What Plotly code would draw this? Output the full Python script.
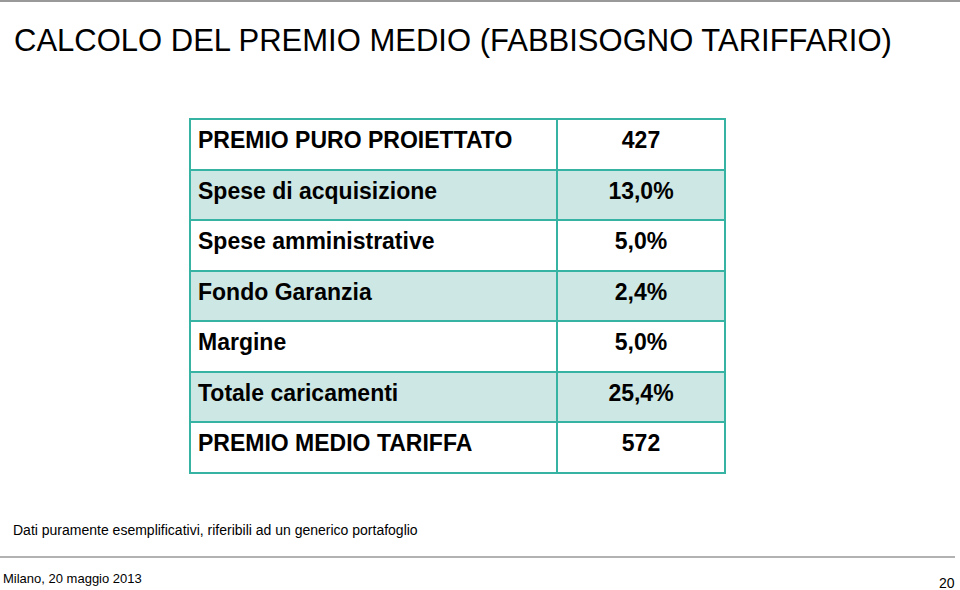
import plotly.graph_objects as go

title_text = "CALCOLO DEL PREMIO MEDIO (FABBISOGNO TARIFFARIO)"
row_labels = ["PREMIO PURO PROIETTATO", "Spese di acquisizione", "Spese amministrative",
              "Fondo Garanzia", "Margine", "Totale caricamenti", "PREMIO MEDIO TARIFFA"]
row_values = ["427", "13,0%", "5,0%", "2,4%", "5,0%", "25,4%", "572"]
footnote = "Dati puramente esemplificativi, riferibili ad un generico portafoglio"
footer_left = "Milano, 20 maggio 2013"
footer_right = "20"

W, H = 960, 590
teal = "#36b3a3"
light = "#cde7e4"
fills = ["white", light, "white", light, "white", light, "white"]

labels_b = ["<b>%s</b>" % s for s in row_labels]
values_b = ["<b>%s</b>" % s for s in row_values]

row_h = (473 - 119) / 7.0
fig = go.Figure(go.Table(
    domain=dict(x=[190 / W, 725 / W], y=[1 - 480 / H, 1 - 119 / H]),
    columnwidth=[367, 168],
    header=dict(values=[labels_b[0], values_b[0]],
                fill_color="white", line=dict(color=teal, width=2),
                align=["left", "center"], height=row_h,
                font=dict(family="Liberation Sans, Arial", size=23, color="black")),
    cells=dict(values=[labels_b[1:], values_b[1:]],
               fill_color=[fills[1:], fills[1:]], line=dict(color=teal, width=2),
               align=["left", "center"], height=row_h,
               font=dict(family="Liberation Sans, Arial", size=23, color="black")),
))

fig.add_annotation(text=title_text, x=12 / W, y=1 - 40 / H, xref="paper", yref="paper",
                   xanchor="left", yanchor="middle", showarrow=False,
                   font=dict(family="Liberation Sans, Arial", size=31, color="black"))
fig.add_annotation(text=footnote, x=11 / W, y=1 - 530 / H, xref="paper", yref="paper",
                   xanchor="left", yanchor="middle", showarrow=False,
                   font=dict(family="Liberation Sans, Arial", size=14, color="black"))
fig.add_annotation(text=footer_left, x=1 / W, y=1 - 578 / H, xref="paper", yref="paper",
                   xanchor="left", yanchor="middle", showarrow=False,
                   font=dict(family="Liberation Sans, Arial", size=13, color="black"))
fig.add_annotation(text=footer_right, x=957 / W, y=1 - 583 / H, xref="paper", yref="paper",
                   xanchor="right", yanchor="middle", showarrow=False,
                   font=dict(family="Liberation Sans, Arial", size=14, color="black"))
fig.add_shape(type="line", xref="paper", yref="paper", x0=0, x1=1, y0=1 - 1 / H, y1=1 - 1 / H,
              line=dict(color="#999999", width=2))
fig.add_shape(type="line", xref="paper", yref="paper", x0=0, x1=955 / W, y0=1 - 557 / H, y1=1 - 557 / H,
              line=dict(color="#999999", width=1.5))

fig.update_layout(width=W, height=H, margin=dict(l=0, r=0, t=0, b=0),
                  paper_bgcolor="white", plot_bgcolor="white")
fig.write_html("out.html", config={"displayModeBar": False},
               post_script="document.body.style.margin='0';document.body.style.overflow='hidden';")
